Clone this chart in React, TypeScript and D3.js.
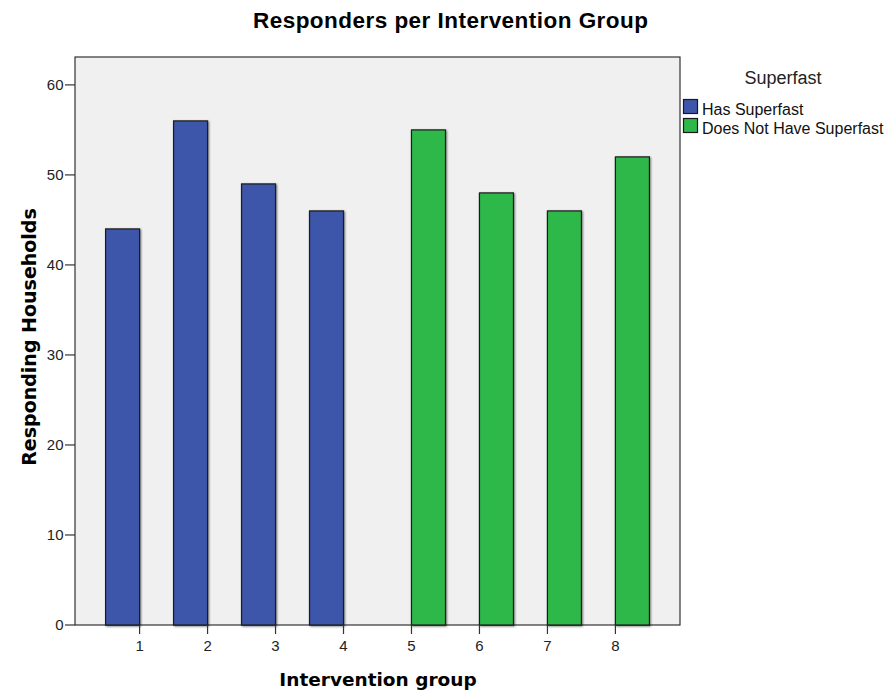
import React from "react";
import * as d3 from "d3";

const categories = ["1", "2", "3", "4", "5", "6", "7", "8"];
const seriesNames = ["Has Superfast", "Does Not Have Superfast"];
const hasSuperfast = [44, 56, 49, 46, null, null, null, null];
const noSuperfast = [null, null, null, null, 55, 48, 46, 52];
const yTicks = [0, 10, 20, 30, 40, 50, 60];
const colors = ["#3d56a9", "#2eb84a"];

const W = 887, H = 691;
const plot = { left: 75, right: 680, top: 57, bottom: 625 };

export default function App() {
  const x = d3.scaleBand<string>().domain(categories).range([plot.left, plot.right]).paddingInner(0).paddingOuter(0.45);
  const xSub = d3.scaleBand<string>().domain(seriesNames).range([0, x.bandwidth()]).padding(0);
  const y = d3.scaleLinear().domain([0, 63.1]).range([plot.bottom, plot.top]);
  const series = [hasSuperfast, noSuperfast];
  const font = "'Liberation Sans', Arial, sans-serif";
  const bold = "'DejaVu Sans', Verdana, sans-serif";

  return (
    <svg width={W} height={H} style={{ position: "absolute", left: 0, top: 0, background: "#fff" }}>
      <defs>
        <filter id="sh" x="-10%" y="-10%" width="120%" height="120%">
          <feGaussianBlur in="SourceAlpha" stdDeviation="0.8" />
          <feOffset dx="0.5" dy="0.5" />
          <feComponentTransfer><feFuncA type="linear" slope="0.5" /></feComponentTransfer>
          <feMerge><feMergeNode /><feMergeNode in="SourceGraphic" /></feMerge>
        </filter>
      </defs>
      <text x={450.5} y={28} textAnchor="middle" fontFamily={font} fontWeight="bold" fontSize={22.5} fill="#000" textLength={395} lengthAdjust="spacing">
        Responders per Intervention Group
      </text>
      <rect x={plot.left} y={plot.top} width={plot.right - plot.left} height={plot.bottom - plot.top} fill="#f0f0f0" stroke="#333" strokeWidth={1.2} />
      {series.map((vals, si) =>
        vals.map((v, i) =>
          v == null ? null : (
            <rect
              key={`${si}-${i}`}
              x={(x(categories[i]) as number) + (xSub(seriesNames[si]) as number)}
              y={y(v)}
              width={xSub.bandwidth()}
              height={y(0) - y(v)}
              fill={colors[si]}
              stroke="#1a1a1a"
              strokeWidth={1.2}
              filter="url(#sh)"
            />
          )
        )
      )}
      {yTicks.map((t) => (
        <g key={t}>
          <line x1={plot.left - 10} x2={plot.left} y1={y(t)} y2={y(t)} stroke="#333" strokeWidth={1.2} />
          <text x={plot.left - 11.5} y={y(t)} dy="0.36em" textAnchor="end" fontFamily={font} fontSize={15} fill="#222">{t}</text>
        </g>
      ))}
      {categories.map((c) => {
        const cx = (x(c) as number) + x.bandwidth() / 2;
        return (
          <g key={c}>
            <line x1={cx} x2={cx} y1={plot.bottom} y2={plot.bottom + 9} stroke="#333" strokeWidth={1.2} />
            <text x={cx} y={plot.bottom + 25.5} textAnchor="middle" fontFamily={font} fontSize={15} fill="#222">{c}</text>
          </g>
        );
      })}
      <text x={378} y={686} textAnchor="middle" fontFamily={bold} fontWeight="bold" fontSize={18.5} fill="#000">Intervention group</text>
      <text transform="translate(36,337) rotate(-90)" textAnchor="middle" fontFamily={bold} fontWeight="bold" fontSize={19} fill="#000">Responding Households</text>
      <text x={783} y={84} textAnchor="middle" fontFamily={font} fontSize={18} fill="#222">Superfast</text>
      {seriesNames.map((n, i) => (
        <g key={n}>
          <rect x={683.5} y={99.5 + i * 19} width={14} height={14} fill={colors[i]} stroke="#1a1a1a" strokeWidth={1.2} />
          <text x={702} y={115 + i * 18.5} fontFamily={font} fontSize={16} fill="#111">{n}</text>
        </g>
      ))}
    </svg>
  );
}
